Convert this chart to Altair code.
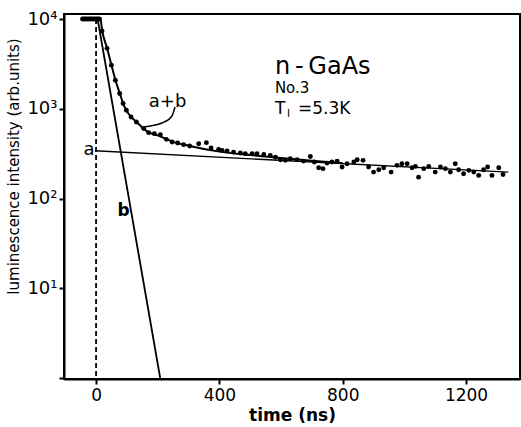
import altair as alt
import pandas as pd

# ---- data ----
plateau_t = [-44, -39, -34, -29, -24, -19, -14, -9, -4, 1, 6, 11]
plateau_i = [10000, 10000, 10000, 10000, 10000, 10000, 10000, 10000, 10000, 10000, 10000, 10000]

meas_t = [19.5, 35.7, 49.6, 62.6, 76.5, 87.6, 98.3, 113.5, 130.7, 154.4, 170.6, 189, 208.6, 228,
          246.5, 264.7, 284, 303.6, 332.8, 357.8, 373, 397.7, 408.7, 425, 446, 468, 484, 506, 522,
          544, 565, 582, 598, 614, 630, 652, 673, 695, 708, 722, 736, 749, 765, 782, 798, 814, 836,
          847, 866, 884, 900, 917, 933, 957, 976, 992, 1009, 1025, 1036, 1046, 1063, 1079, 1100,
          1117, 1133, 1149, 1165, 1176, 1192, 1209, 1225, 1241, 1257, 1270, 1284, 1306, 1320]
meas_i = [7350, 4710, 3060, 2080, 1480, 1143, 962, 809, 712, 601, 542, 528, 515, 456,
          426, 415, 398, 384, 408, 419, 365, 353, 344, 338, 329, 321, 316, 316, 316,
          310, 302, 289, 270, 266, 278, 270, 261, 294, 255, 220, 215, 248, 255, 261, 224, 244, 255,
          270, 266, 224, 197, 209, 220, 197, 234, 244, 244, 220, 228, 173, 215, 228, 197,
          224, 215, 197, 244, 209, 189, 206, 197, 181, 209, 224, 181, 220, 185]

fit_t = [-44, 14, 20, 36, 50, 63, 77, 88, 98, 114, 131, 154, 171, 200, 250, 300, 400, 500, 600, 700, 800]
fit_i = [10000, 10000, 7350, 4700, 3060, 2080, 1480, 1143, 962, 809, 712, 601, 545, 505, 428, 388, 333, 305, 283, 263, 247]

a_t = [-3, 1337]
a_i = [340, 197]

b_t = [5, 208]
b_i = [10000, 1]

lead_t = [152, 214, 246, 256]
lead_i = [626, 693, 830, 1047]

FONT = "DejaVu Sans"

pts = pd.DataFrame({"t": plateau_t + meas_t, "I": plateau_i + meas_i})
fit = pd.DataFrame({"t": fit_t, "I": fit_i})
line_a = pd.DataFrame({"t": a_t, "I": a_i})
line_b = pd.DataFrame({"t": b_t, "I": b_i})
lead = pd.DataFrame({"t": lead_t, "I": lead_i})

xs = alt.Scale(domain=[-104, 1375], nice=False, zero=False)
ys = alt.Scale(type="log", domain=[0.975, 11370], nice=False)

X = lambda: alt.X("t:Q", scale=xs, axis=alt.Axis(
    values=[0, 400, 800, 1200], format="d", title="time (ns)", labelFontSize=17, titleFontSize=17,
    titleFontWeight="bold", labelPadding=3, titlePadding=4))
Y = lambda: alt.Y("I:Q", scale=ys, axis=alt.Axis(
    values=[1, 10, 100, 1000, 10000], title="luminescence intensity (arb.units)",
    labelExpr="datum.value >= 9999 ? '10⁴' : datum.value >= 999 ? '10³' : datum.value >= 99 ? '10²' : datum.value >= 9 ? '10¹' : ''",
    labelFontSize=18, titleFontSize=15, titleFontWeight="normal", labelPadding=2,
    titleX=-51, titleY=152, titleAlign="center", titleBaseline="middle", titleAngle=-90))

dummy = alt.Data(values=[{}])

dash = alt.Chart(dummy).mark_rule(color="black", strokeWidth=1.8, strokeDash=[5, 3]).encode(
    x=alt.datum(0, scale=xs), y=alt.datum(10000, scale=ys), y2=alt.datum(0.975))

la = alt.Chart(line_a).mark_line(color="black", strokeWidth=1.4).encode(x=X(), y=Y())
lb = alt.Chart(line_b).mark_line(color="black", strokeWidth=1.8).encode(x="t:Q", y="I:Q")
lf = alt.Chart(fit).mark_line(color="black", strokeWidth=2, interpolate="monotone").encode(x="t:Q", y="I:Q")
ll = alt.Chart(lead).mark_line(color="black", strokeWidth=1.5, interpolate="monotone").encode(x="t:Q", y="I:Q")
pp = alt.Chart(pts).mark_circle(color="black", opacity=1, size=24).encode(x="t:Q", y="I:Q")


def txt(s, t, i, size, weight="normal", align="left"):
    return alt.Chart(dummy).mark_text(text=s, font=FONT, fontSize=size, fontWeight=weight,
                                      align=align, baseline="middle", color="black").encode(
        x=alt.datum(t), y=alt.datum(i))


texts = [
    txt("n\u2009-\u2009GaAs", 580, 2917, 24),
    txt("No.3", 580, 1702, 15),
    txt("T", 580, 993, 17),
    txt("l", 619, 873, 11),
    txt("=5.3K", 655, 993, 17),
    txt("a+b", 232, 1175, 18, align="center"),
    txt("a", -23, 347, 18, align="center"),
    txt("b", 89, 72, 17, weight="bold", align="center"),
]

chart = alt.layer(la, dash, lb, lf, ll, pp, *texts).properties(
    width=456, height=365,
    autosize=alt.AutoSizeParams(type="none"),
    padding={"left": 64, "top": 14, "right": 1, "bottom": 48},
    background="white",
).configure_view(stroke="black", strokeWidth=2).configure_axis(
    grid=False, domainColor="black", domainWidth=2, tickColor="black", tickWidth=2, tickSize=5,
    labelColor="black", titleColor="black", labelFont=FONT, titleFont=FONT)

chart.save("out.html", embed_options={"renderer": "svg", "actions": False})
